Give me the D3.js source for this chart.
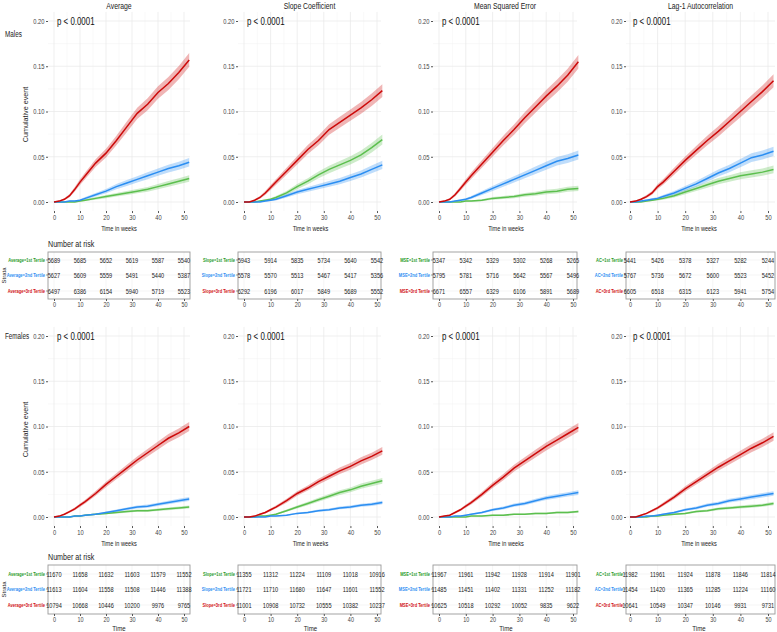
<!DOCTYPE html>
<html>
<head>
<meta charset="utf-8">
<script src="https://cdn.jsdelivr.net/npm/d3@7"></script>
<style>
  body { margin: 0; background: #fff; }
  text { font-family: "Liberation Sans", Arial, sans-serif; }
</style>
</head>
<body>
<div id="chart"></div>
<script>
// time points (weeks) at which the cumulative event curves were read
var weeks = [0, 2, 4, 6, 8, 10, 12, 16, 20, 24, 28, 32, 36, 40, 44, 48, 52];

// Males
var mAvgT1 = [0, 0, 0, 0, 0, 0.001, 0.002, 0.004, 0.006, 0.008, 0.010, 0.012, 0.014, 0.017, 0.020, 0.023, 0.026];
var mAvgT2 = [0, 0, 0, 0.001, 0.001, 0.002, 0.004, 0.008, 0.012, 0.017, 0.021, 0.025, 0.029, 0.033, 0.037, 0.040, 0.044];
var mAvgT3 = [0, 0.001, 0.003, 0.007, 0.014, 0.022, 0.029, 0.043, 0.054, 0.068, 0.083, 0.098, 0.108, 0.121, 0.131, 0.143, 0.157];
var mSlopeT1 = [0, 0, 0, 0.001, 0.002, 0.003, 0.005, 0.010, 0.017, 0.023, 0.030, 0.036, 0.041, 0.046, 0.052, 0.060, 0.069];
var mSlopeT2 = [0, 0, 0, 0, 0.001, 0.002, 0.003, 0.007, 0.011, 0.014, 0.017, 0.020, 0.023, 0.027, 0.031, 0.036, 0.041];
var mSlopeT3 = [0, 0, 0.002, 0.005, 0.010, 0.016, 0.022, 0.034, 0.046, 0.058, 0.068, 0.080, 0.088, 0.096, 0.104, 0.113, 0.123];
var mMseT1 = [0, 0, 0, 0, 0, 0.001, 0.001, 0.002, 0.004, 0.005, 0.006, 0.008, 0.009, 0.011, 0.012, 0.014, 0.015];
var mMseT2 = [0, 0, 0, 0.001, 0.002, 0.003, 0.005, 0.010, 0.015, 0.020, 0.025, 0.030, 0.035, 0.040, 0.045, 0.048, 0.052];
var mMseT3 = [0, 0.001, 0.003, 0.008, 0.015, 0.022, 0.029, 0.042, 0.055, 0.068, 0.080, 0.093, 0.105, 0.117, 0.128, 0.140, 0.155];
var mAcT1 = [0, 0, 0, 0.001, 0.002, 0.003, 0.004, 0.007, 0.011, 0.015, 0.019, 0.023, 0.026, 0.029, 0.031, 0.033, 0.036];
var mAcT2 = [0, 0, 0.001, 0.002, 0.003, 0.004, 0.006, 0.010, 0.015, 0.020, 0.026, 0.032, 0.037, 0.043, 0.049, 0.052, 0.056];
var mAcT3 = [0, 0.001, 0.003, 0.006, 0.010, 0.017, 0.022, 0.034, 0.046, 0.057, 0.068, 0.078, 0.089, 0.100, 0.111, 0.122, 0.134];

// Females
var fAvgT1 = [0, 0, 0, 0, 0.001, 0.001, 0.002, 0.003, 0.004, 0.005, 0.006, 0.007, 0.007, 0.008, 0.009, 0.010, 0.011];
var fAvgT2 = [0, 0, 0, 0, 0.001, 0.001, 0.002, 0.003, 0.005, 0.007, 0.009, 0.011, 0.012, 0.014, 0.016, 0.018, 0.020];
var fAvgT3 = [0, 0.001, 0.003, 0.006, 0.009, 0.013, 0.017, 0.026, 0.036, 0.045, 0.054, 0.063, 0.071, 0.079, 0.087, 0.093, 0.100];
var fSlopeT1 = [0, 0, 0, 0.001, 0.001, 0.002, 0.003, 0.007, 0.011, 0.015, 0.019, 0.023, 0.027, 0.030, 0.034, 0.037, 0.040];
var fSlopeT2 = [0, 0, 0, 0, 0, 0.001, 0.001, 0.002, 0.004, 0.005, 0.007, 0.008, 0.010, 0.011, 0.013, 0.014, 0.016];
var fSlopeT3 = [0, 0, 0.001, 0.003, 0.005, 0.008, 0.011, 0.018, 0.026, 0.032, 0.039, 0.045, 0.051, 0.056, 0.062, 0.067, 0.073];
var fMseT1 = [0, 0, 0, 0, 0, 0, 0.001, 0.001, 0.002, 0.002, 0.003, 0.003, 0.004, 0.004, 0.005, 0.005, 0.006];
var fMseT2 = [0, 0, 0, 0.001, 0.001, 0.002, 0.003, 0.005, 0.008, 0.010, 0.013, 0.015, 0.018, 0.021, 0.023, 0.025, 0.027];
var fMseT3 = [0, 0.001, 0.002, 0.005, 0.008, 0.012, 0.016, 0.025, 0.035, 0.044, 0.054, 0.062, 0.070, 0.078, 0.085, 0.092, 0.099];
var fAcT1 = [0, 0, 0, 0, 0.001, 0.001, 0.002, 0.003, 0.004, 0.006, 0.007, 0.009, 0.010, 0.011, 0.012, 0.013, 0.015];
var fAcT2 = [0, 0, 0, 0.001, 0.001, 0.002, 0.003, 0.005, 0.008, 0.010, 0.013, 0.015, 0.018, 0.020, 0.022, 0.024, 0.026];
var fAcT3 = [0, 0, 0.002, 0.004, 0.007, 0.010, 0.014, 0.022, 0.031, 0.039, 0.047, 0.055, 0.062, 0.069, 0.076, 0.082, 0.089];

// number at risk tables
var riskWeeks = [0, 10, 20, 30, 40, 50];
var mAvgRisk = [[5689, 5685, 5652, 5619, 5587, 5540], [5627, 5609, 5559, 5491, 5440, 5387], [6497, 6386, 6154, 5940, 5719, 5523]];
var mSlopeRisk = [[5943, 5914, 5835, 5734, 5640, 5542], [5578, 5570, 5513, 5467, 5417, 5356], [6292, 6196, 6017, 5849, 5689, 5552]];
var mMseRisk = [[5347, 5342, 5329, 5302, 5268, 5265], [5795, 5781, 5716, 5642, 5567, 5496], [6671, 6557, 6329, 6106, 5891, 5689]];
var mAcRisk = [[5441, 5426, 5378, 5327, 5282, 5244], [5767, 5736, 5672, 5600, 5523, 5452], [6605, 6518, 6315, 6123, 5941, 5754]];
var fAvgRisk = [[11670, 11658, 11632, 11603, 11579, 11552], [11613, 11604, 11558, 11508, 11446, 11388], [10794, 10668, 10446, 10200, 9976, 9765]];
var fSlopeRisk = [[11355, 11312, 11224, 11109, 11018, 10916], [11721, 11710, 11680, 11647, 11601, 11552], [11001, 10908, 10732, 10555, 10382, 10237]];
var fMseRisk = [[11967, 11961, 11942, 11928, 11914, 11901], [11485, 11451, 11402, 11331, 11252, 11182], [10625, 10518, 10292, 10052, 9835, 9622]];
var fAcRisk = [[11982, 11961, 11924, 11878, 11846, 11814], [11454, 11420, 11365, 11285, 11224, 11160], [10641, 10549, 10347, 10146, 9931, 9731]];

var panelTitles = ["Average", "Slope Coefficient", "Mean Squared Error", "Lag-1 Autocorrelation"];
var strataPrefix = ["Average", "Slope", "MSE", "AC"];
var tertiles = ["1st Tertile", "2nd Tertile", "3rd Tertile"];
var sexLabels = ["Males", "Females"];
var yTicks = [0, 0.05, 0.10, 0.15, 0.20];
var xTicks = [0, 10, 20, 30, 40, 50];
var pText = "p < 0.0001";

var lineColors = ["#5cbf4e", "#2b8ef2", "#cc0a0a"];
var labelColors = ["#1f9a1f", "#2b8ef2", "#d01010"];

var curves = [
  [[mAvgT1, mAvgT2, mAvgT3], [mSlopeT1, mSlopeT2, mSlopeT3], [mMseT1, mMseT2, mMseT3], [mAcT1, mAcT2, mAcT3]],
  [[fAvgT1, fAvgT2, fAvgT3], [fSlopeT1, fSlopeT2, fSlopeT3], [fMseT1, fMseT2, fMseT3], [fAcT1, fAcT2, fAcT3]]
];
var risks = [
  [mAvgRisk, mSlopeRisk, mMseRisk, mAcRisk],
  [fAvgRisk, fSlopeRisk, fMseRisk, fAcRisk]
];

// layout of the 4 columns and the 2 rows
var cols = [
  {x0: 54, x50: 184, left: 48, right: 190},
  {x0: 244, x50: 377, left: 238, right: 381},
  {x0: 439, x50: 573, left: 433, right: 577},
  {x0: 630, x50: 768, left: 626, right: 775}
];
var rows = [
  {nameY: 34, y0: 202, y20: 21, riskTitleY: 243, boxTop: 252, boxBottom: 299, rowY: [260, 275, 291], timeY: null},
  {nameY: 336, y0: 517, y20: 336, riskTitleY: 556, boxTop: 565, boxBottom: 614, rowY: [574, 589, 605], timeY: 627}
];

var svg = d3.select("#chart").append("svg")
  .attr("width", 777).attr("height", 632);

function drawPanel(ri, ci) {
  var c = cols[ci], r = rows[ri];
  var x = d3.scaleLinear().domain([0, 50]).range([c.x0, c.x50]);
  var y = d3.scaleLinear().domain([0, 0.2]).range([r.y0, r.y20]);
  var g = svg.append("g");
  var top = y(0.21), bottom = y(-0.01);

  // grid
  var minorX = d3.range(5, 55, 10), minorY = d3.range(0.025, 0.2, 0.05);
  g.selectAll(".mx").data(minorX).enter().append("line")
    .attr("x1", d => x(d)).attr("x2", d => x(d)).attr("y1", top).attr("y2", bottom)
    .style("stroke", "#f3f3f3").style("stroke-width", 0.5);
  g.selectAll(".my").data(minorY).enter().append("line")
    .attr("x1", c.left).attr("x2", c.right).attr("y1", d => y(d)).attr("y2", d => y(d))
    .style("stroke", "#f3f3f3").style("stroke-width", 0.5);
  g.selectAll(".gx").data(xTicks).enter().append("line")
    .attr("x1", d => x(d)).attr("x2", d => x(d)).attr("y1", top).attr("y2", bottom)
    .style("stroke", "#e8e8e8").style("stroke-width", 0.7);
  g.selectAll(".gy").data(yTicks).enter().append("line")
    .attr("x1", c.left).attr("x2", c.right).attr("y1", d => y(d)).attr("y2", d => y(d))
    .style("stroke", "#e8e8e8").style("stroke-width", 0.7);

  // axes
  var ya = g.append("g").attr("transform", "translate(" + c.left + ",0)")
    .call(d3.axisLeft(y).tickValues(yTicks).tickFormat(d3.format(".2f")).tickSize(2).tickPadding(1.5));
  var xa = g.append("g").attr("transform", "translate(0," + bottom + ")")
    .call(d3.axisBottom(x).tickValues(xTicks).tickSize(2).tickPadding(2));
  [ya, xa].forEach(function (a) {
    a.select(".domain").remove();
    a.selectAll("line").style("stroke", "#555");
    a.selectAll("text").style("font-size", "7.6px").style("fill", "#444").style("font-family", null);
  });

  g.append("text").attr("x", (c.x0 + c.x50) / 2).attr("y", r.y0 + 29)
    .attr("text-anchor", "middle").style("font-size", "7.4px").style("fill", "#222")
    .text("Time in weeks");

  // curves with confidence bands
  var n0 = risks[ri][ci];
  curves[ri][ci].forEach(function (vals, k) {
    var pts = weeks.map(function (w, i) { return {w: w, v: vals[i]}; });
    var half = function (d) { return 1.7 * Math.sqrt(d.v * (1 - d.v) / n0[k][0]); };
    var area = d3.area()
      .x(d => x(d.w))
      .y0(d => y(Math.max(0, d.v - half(d))))
      .y1(d => y(d.v + half(d)));
    g.append("path").datum(pts).attr("d", area)
      .style("fill", lineColors[k]).style("fill-opacity", 0.3);
  });
  curves[ri][ci].forEach(function (vals, k) {
    var pts = weeks.map(function (w, i) { return {w: w, v: vals[i]}; });
    var line = d3.line().x(d => x(d.w)).y(d => y(d.v));
    g.append("path").datum(pts).attr("d", line)
      .style("fill", "none").style("stroke", lineColors[k]).style("stroke-width", 1.5);
  });

  g.append("text").attr("x", c.x0 + 3).attr("y", r.y20 + 3.7)
    .style("font-size", "10.4px").style("fill", "#111").text(pText);

  if (ri === 0) {
    g.append("text").attr("x", (c.left + c.right) / 2).attr("y", 9)
      .attr("text-anchor", "middle").style("font-size", "9px").style("fill", "#222")
      .text(panelTitles[ci]);
  }
  if (ci === 0) {
    g.append("text").attr("class", "rot")
      .attr("transform", "translate(28," + ((r.y0 + r.y20) / 2 + 3) + ") rotate(-90)")
      .attr("text-anchor", "middle").style("font-size", "7.2px").style("fill", "#222")
      .text("Cumulative event");
    g.append("text").attr("x", 5).attr("y", r.nameY + 3)
      .style("font-size", "8.3px").style("fill", "#222").text(sexLabels[ri]);
    g.append("text").attr("x", c.left).attr("y", r.riskTitleY + 4)
      .style("font-size", "9.4px").style("fill", "#222").text("Number at risk");
    g.append("text").attr("class", "rot")
      .attr("transform", "translate(6," + ((r.boxTop + r.boxBottom) / 2) + ") rotate(-90)")
      .attr("text-anchor", "middle").style("font-size", "6px").style("fill", "#222")
      .text("Strata");
  }

  // risk table
  var t = svg.append("g");
  t.selectAll(".rg").data(xTicks).enter().append("line")
    .attr("x1", d => x(d)).attr("x2", d => x(d)).attr("y1", r.boxTop).attr("y2", r.boxBottom)
    .style("stroke", "#eeeeee").style("stroke-width", 0.6);
  t.selectAll(".rh").data(r.rowY).enter().append("line")
    .attr("x1", c.left).attr("x2", c.right).attr("y1", d => d).attr("y2", d => d)
    .style("stroke", "#eeeeee").style("stroke-width", 0.6);
  t.append("rect").attr("x", c.left).attr("y", r.boxTop)
    .attr("width", c.right - c.left).attr("height", r.boxBottom - r.boxTop)
    .style("fill", "none").style("stroke", "#9a9a9a").style("stroke-width", 0.9);
  var ta = t.append("g").attr("transform", "translate(0," + r.boxBottom + ")")
    .call(d3.axisBottom(x).tickValues(xTicks).tickSize(2).tickPadding(1));
  ta.select(".domain").remove();
  ta.selectAll("line").style("stroke", "#555");
  ta.selectAll("text").style("font-size", "7.2px").style("fill", "#444").style("font-family", null);

  n0.forEach(function (rowVals, k) {
    var ry = r.rowY[k];
    t.append("line").attr("x1", c.left - 2).attr("x2", c.left).attr("y1", ry).attr("y2", ry)
      .style("stroke", "#555").style("stroke-width", 0.6);
    t.append("text").attr("x", c.left - 3).attr("y", ry + 2)
      .attr("text-anchor", "end").style("font-size", "5.3px").style("font-weight", "bold")
      .style("fill", labelColors[k])
      .text(strataPrefix[ci] + "=" + tertiles[k]);
    t.selectAll(".n" + k).data(rowVals).enter().append("text")
      .attr("x", (d, i) => x(riskWeeks[i])).attr("y", ry + 2.6)
      .attr("text-anchor", "middle").style("font-size", "7.4px").style("fill", "#222")
      .text(d => d);
  });
  if (r.timeY) {
    t.append("text").attr("x", (c.x0 + c.x50) / 2).attr("y", r.timeY + 3.5)
      .attr("text-anchor", "middle").style("font-size", "8px").style("fill", "#222").text("Time");
  }
}

for (var ri = 0; ri < 2; ri++) {
  for (var ci = 0; ci < 4; ci++) drawPanel(ri, ci);
}

// the reference figure is squeezed horizontally; squeeze the horizontal labels the same way
svg.selectAll("text").filter(function () { return !this.classList.contains("rot"); })
  .each(function () {
    var w = this.getComputedTextLength();
    d3.select(this).attr("textLength", w * 0.76).attr("lengthAdjust", "spacingAndGlyphs");
  });
</script>
</body>
</html>
